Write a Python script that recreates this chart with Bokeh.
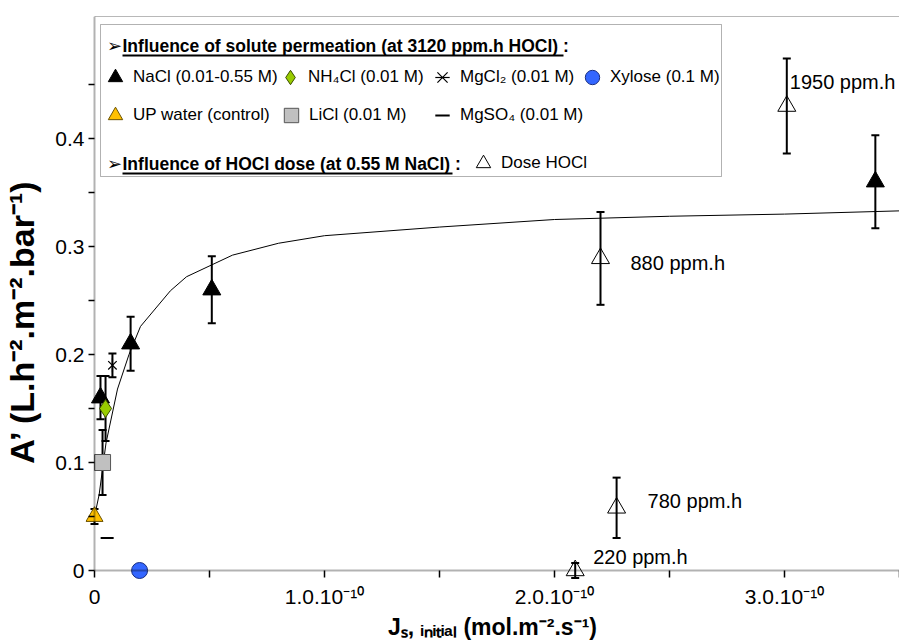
from bokeh.plotting import figure
from bokeh.models import (ColumnDataSource, Whisker, TeeHead, FixedTicker, Legend,
                          LegendItem, Label, BoxAnnotation, Range1d)
from bokeh.embed import file_html
from bokeh.resources import INLINE
from bokeh.core.properties import value

FONT = "Liberation Sans"

# ---------------- data (x in units of 1e-10 mol.m-2.s-1) ----------------
nacl_x = [0.026, 0.157, 0.51, 3.395]
nacl_y = [0.16, 0.21, 0.26, 0.36]
nacl_err = [0.02, 0.025, 0.031, 0.043]

up_x = [0.0]
up_y = [0.05]
up_err = [0.007]

licl_x = [0.035]
licl_y = [0.10]
licl_err = [0.03]

nh4cl_x = [0.048]
nh4cl_y = [0.15]
nh4cl_err = [0.03]

mgcl2_x = [0.078]
mgcl2_y = [0.19]
mgcl2_err = [0.011]

mgso4_x = [0.055]
mgso4_y = [0.03]

xylose_x = [0.196]
xylose_y = [0.0]

dose_x = [2.09, 2.27, 2.20, 3.01]
dose_y = [0.0, 0.058, 0.289, 0.43]
dose_err = [0.007, 0.028, 0.043, 0.044]
dose_labels = ["220 ppm.h", "780 ppm.h", "880 ppm.h", "1950 ppm.h"]

fit_x = [0.0, 0.02, 0.05, 0.1, 0.15, 0.2, 0.33, 0.4, 0.6, 0.8, 1.0, 1.5, 2.0, 2.5, 3.0, 3.5]
fit_y = [0.05, 0.07, 0.118, 0.168, 0.2, 0.226, 0.259, 0.272, 0.292, 0.303, 0.31, 0.318,
         0.325, 0.328, 0.33, 0.333]

x_ticks = [0, 1, 2, 3]
x_tick_labels = ["0", "1.0.10⁻¹⁰", "2.0.10⁻¹⁰", "3.0.10⁻¹⁰"]
x_minor = [0.5, 1.5, 2.5, 3.5]
y_ticks = [0, 0.1, 0.2, 0.3, 0.4]
y_tick_labels = ["0", "0.1", "0.2", "0.3", "0.4"]
y_minor = [0.05, 0.15, 0.25, 0.35, 0.45]

x_title = "Jₛ, ᵢₙᵢₜᵢₐₗ (mol.m⁻².s⁻¹)"
y_title = "A’ (L.h⁻².m⁻².bar⁻¹)"

# ---------------- layout (pixels) ----------------
W, H = 899, 642
FL, FR, FT, FB = 85, 899, 16, 579     # frame edges
X0, Y0 = 94, 570                       # pixel of data origin
SX, SY = 230.0, 1080.0                 # pixels per unit


def dx(px):
    return (px - X0) / SX


def dy(py):
    return (Y0 - py) / SY


x_rng = Range1d(-(X0 - FL) / SX, (FR - X0) / SX)
y_rng = Range1d(-(FB - Y0) / SY, (Y0 - FT) / SY)

p = figure(width=W, height=H, x_range=x_rng, y_range=y_rng,
           toolbar_location=None, output_backend="svg",
           min_border_left=FL, min_border_right=W - FR,
           min_border_top=FT, min_border_bottom=H - FB)
p.outline_line_color = None
p.grid.visible = False
p.background_fill_color = "white"
p.border_fill_color = "white"

# axes (real axes sit on the padded frame edge; their ticks reach in to the zero lines)
xa = p.xaxis[0]
ya = p.yaxis[0]
xa.ticker = FixedTicker(ticks=x_ticks, minor_ticks=x_minor)
ya.ticker = FixedTicker(ticks=y_ticks, minor_ticks=y_minor)
xa.major_label_overrides = dict(zip(x_ticks, x_tick_labels))
ya.major_label_overrides = dict(zip(y_ticks, y_tick_labels))
for ax in (xa, ya):
    ax.axis_line_color = None
    ax.major_tick_line_width = 1.5
    ax.minor_tick_line_width = 1.5
    ax.major_tick_line_color = "black"
    ax.minor_tick_line_color = "black"
    ax.major_label_text_font = FONT
    ax.major_label_text_font_size = "21px"
    ax.major_label_text_color = "black"
    ax.axis_label_text_font = FONT
    ax.axis_label_text_font_style = "bold"
    ax.axis_label_text_color = "black"
ya.major_tick_in = 9
ya.major_tick_out = -3
ya.minor_tick_in = 9
ya.minor_tick_out = -3
ya.major_label_standoff = 4
xa.major_tick_in = 9
xa.major_tick_out = -2
xa.minor_tick_in = 9
xa.minor_tick_out = -2
xa.major_label_standoff = 7

# trailing no-break spaces nudge the rotated title down to where it sits in the original
ya.axis_label = y_title + "\u00a0" * 5
ya.axis_label_text_font_size = "34px"
ya.axis_label_standoff = 11
xa.axis_label = x_title
xa.axis_label_text_font_size = "23px"
xa.axis_label_standoff = 3

# axis lines at zero and top border of plot area
p.add_layout(BoxAnnotation(left=0, bottom=0, top=0, fill_alpha=0,
                           line_color="black", line_width=2))
p.add_layout(BoxAnnotation(left=0, right=0, bottom=0, top=y_rng.end, fill_alpha=0,
                           line_color="black", line_width=2))
p.add_layout(BoxAnnotation(left=0, bottom=y_rng.end, top=y_rng.end, fill_alpha=0,
                           line_color="black", line_width=1))

# fitted curve
p.line(fit_x, fit_y, line_color="black", line_width=1)


def whisk(xs, ys, errs):
    src = ColumnDataSource(dict(x=xs, upper=[a + b for a, b in zip(ys, errs)],
                                lower=[a - b for a, b in zip(ys, errs)]))
    w = Whisker(source=src, base="x", upper="upper", lower="lower", dimension="height",
                line_color="black", line_width=2,
                upper_head=TeeHead(size=8, line_width=2, line_color="black"),
                lower_head=TeeHead(size=8, line_width=2, line_color="black"))
    p.add_layout(w)


whisk(up_x, up_y, up_err)
whisk(licl_x, licl_y, licl_err)
whisk(nh4cl_x, nh4cl_y, nh4cl_err)
whisk(mgcl2_x, mgcl2_y, mgcl2_err)
whisk(nacl_x, nacl_y, nacl_err)
whisk(dose_x, dose_y, dose_err)

r_up = p.scatter(up_x, up_y, marker="triangle", size=17, fill_color="#FFC000",
                 line_color="#6b5200", line_width=1)
r_licl = p.scatter(licl_x, licl_y, marker="square", size=16, fill_color="#C0C0C0",
                   line_color="#555555", line_width=1)
r_nacl = p.scatter(nacl_x, nacl_y, marker="triangle", size=18, fill_color="black",
                   line_color="black")
r_nh4 = p.scatter(nh4cl_x, nh4cl_y, marker="diamond", size=18, fill_color="#99CC00",
                  line_color="#3a4d00", line_width=1)
r_mgx = p.scatter(mgcl2_x, mgcl2_y, marker="x", size=12, line_color="black", line_width=1.2)
r_mgv = p.scatter(mgcl2_x, mgcl2_y, marker="dash", angle=1.5708, size=14,
                  line_color="black", line_width=1.2)
r_mgso4 = p.scatter(mgso4_x, mgso4_y, marker="dash", size=13, line_color="black",
                    line_width=2)
r_xyl = p.scatter(xylose_x, xylose_y, marker="circle", size=16, fill_color="#3366FF",
                  line_color="#1a2f80", line_width=1)
r_dose = p.scatter(dose_x, dose_y, marker="triangle", size=18, fill_alpha=0,
                   line_color="black", line_width=1)

# point labels
label_dx = [18, 31, 30, 3]
label_dy = [-14, -7, 5, -24]
lsrc = ColumnDataSource(dict(x=dose_x, y=dose_y, t=dose_labels, ox=label_dx, oy=label_dy))
p.text(x="x", y="y", text="t", x_offset="ox", y_offset="oy", source=lsrc,
       text_font=value(FONT), text_font_size="20px", text_baseline="middle",
       text_align="left", text_color="black")

# ---------------- legend box ----------------
p.add_layout(BoxAnnotation(left=dx(100), right=dx(721), top=dy(24), bottom=dy(176),
                           fill_color="white", fill_alpha=1, line_color="black",
                           line_width=1))

G = 36


def legend_at(renderers, text, cx, cy):
    leg = Legend(items=[LegendItem(label=text, renderers=renderers)],
                 location=(cx - G / 2 - FL, FB - (cy + G / 2)),
                 glyph_width=G, glyph_height=G, label_height=G, label_standoff=-8,
                 padding=0, margin=0, spacing=0, border_line_color=None,
                 background_fill_alpha=0, label_text_font=FONT,
                 label_text_font_size="17px", label_text_color="black")
    p.add_layout(leg, "center")


legend_at([r_nacl], "NaCl (0.01-0.55 M)", 115, 77)
legend_at([r_nh4], "NH₄Cl (0.01 M)", 290, 77)
legend_at([r_mgx, r_mgv], "MgCl₂ (0.01 M)", 442, 77)
legend_at([r_xyl], "Xylose (0.1 M)", 592, 77)
legend_at([r_up], "UP water (control)", 115, 115)
legend_at([r_licl], "LiCl (0.01 M)", 291, 115)
legend_at([r_mgso4], "MgSO₄ (0.01 M)", 442, 115)
legend_at([r_dose], "Dose HOCl", 483, 163)


def lab(text, px, py, size="17.5px", style="bold"):
    p.add_layout(Label(x=dx(px), y=dy(py), text=text, text_font=FONT,
                       text_font_size=size, text_font_style=style,
                       text_baseline="middle", text_align="left", text_color="black"))


lab("➢", 106, 45, style="normal")
lab("Influence of solute permeation (at 3120 ppm.h HOCl) :", 122, 45)
lab("➢", 106, 163, style="normal")
lab("Influence of HOCl dose (at 0.55 M NaCl) :", 122, 163)

for (x1, x2, yy) in [(122, 563, 55), (122, 452, 173)]:
    p.add_layout(BoxAnnotation(left=dx(x1), right=dx(x2), top=dy(yy - 1), bottom=dy(yy + 1),
                               fill_color="black", fill_alpha=1, line_color=None))

open("out.html", "w").write(file_html(p, INLINE))
